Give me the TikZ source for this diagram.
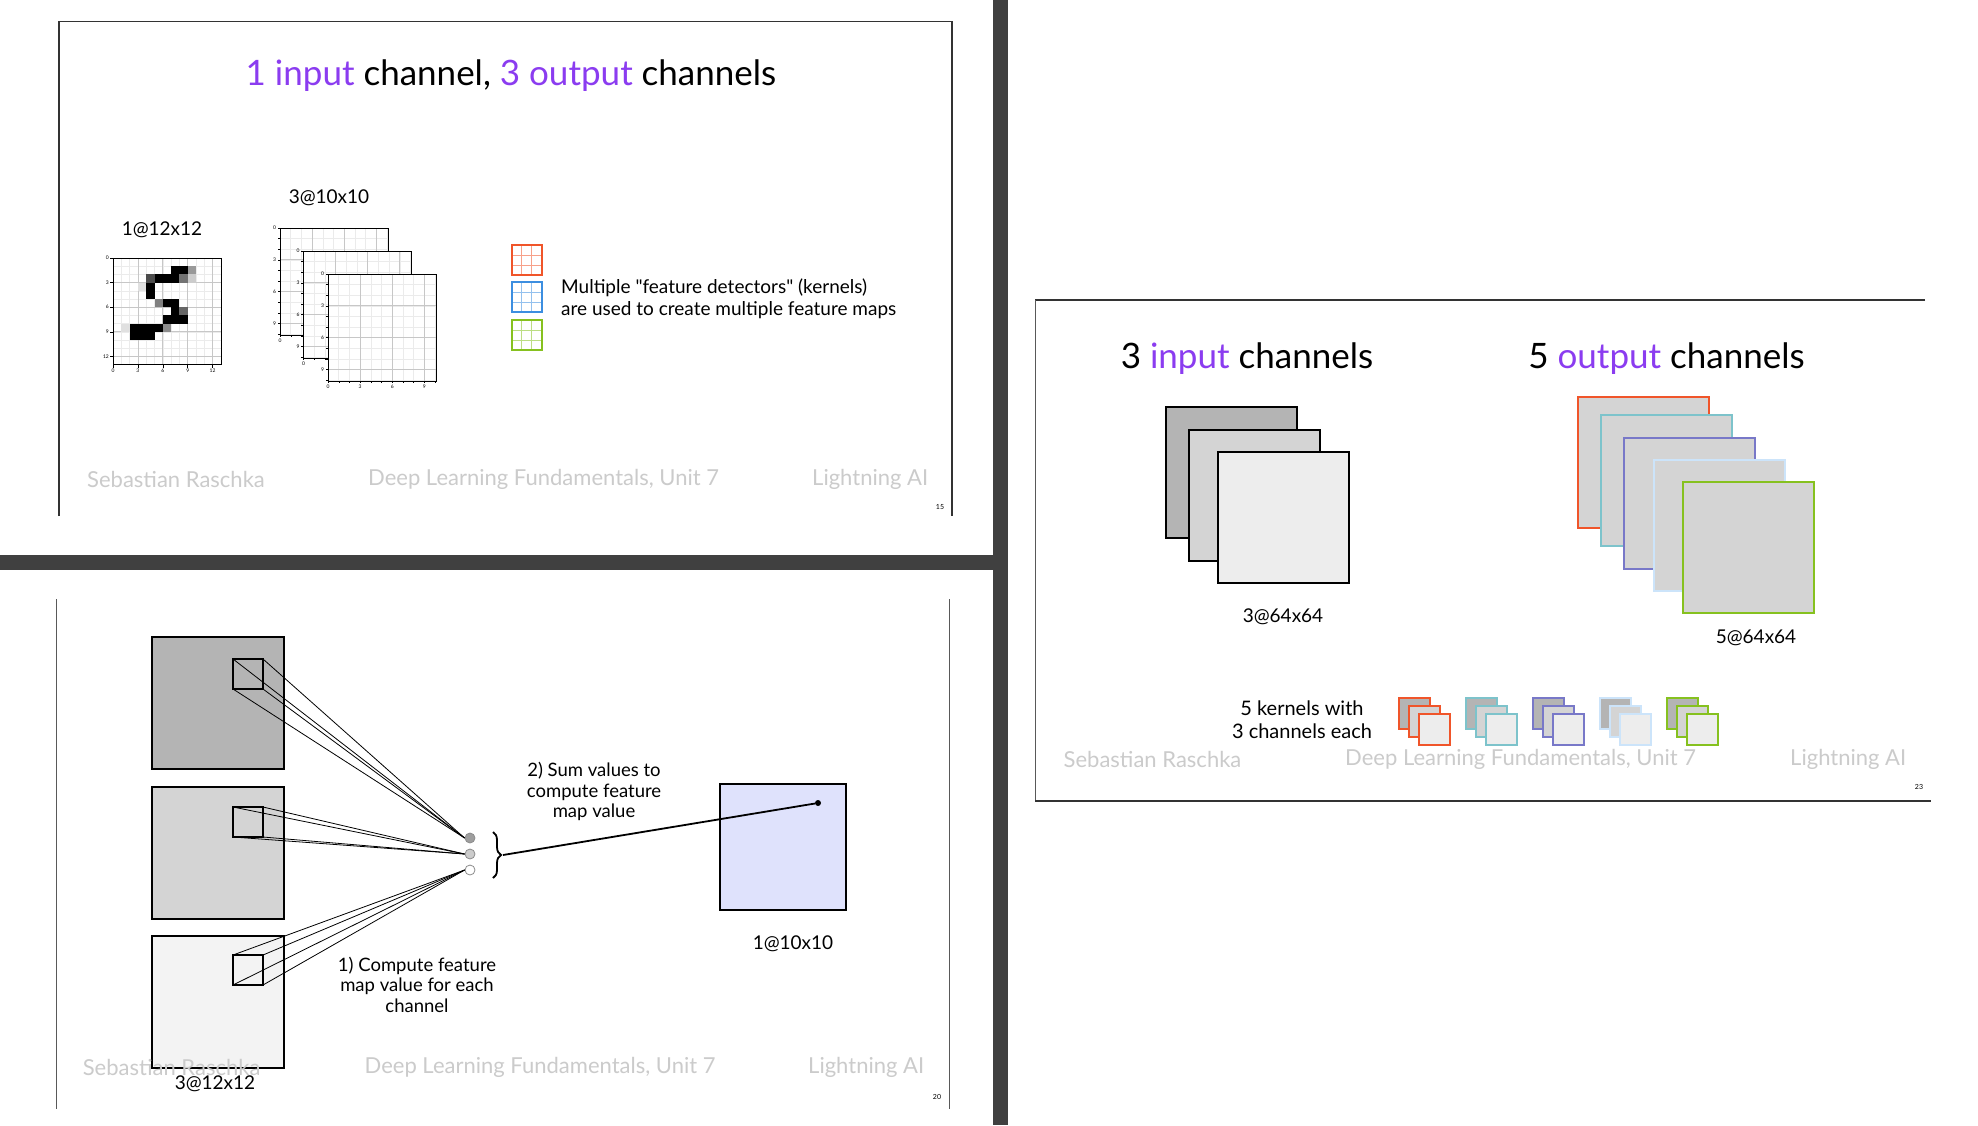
\documentclass[tikz,border=0pt]{standalone}
\usepackage{fontspec}
\setmainfont{Lato}[Ligatures=TeXOff]
\usepackage{tikz}
\usetikzlibrary{positioning,decorations.pathreplacing}

\definecolor{darkbar}{HTML}{404040}
\definecolor{footgrey}{HTML}{CBCBCB}
\definecolor{purp}{HTML}{8B3CF0}
\definecolor{gA}{HTML}{B4B4B4}
\definecolor{gB}{HTML}{D4D4D4}
\definecolor{gC}{HTML}{EDEDED}
\definecolor{gD}{HTML}{F3F3F3}
\definecolor{lav}{HTML}{DFE2FC}
\definecolor{kred}{HTML}{F0552A}
\definecolor{kblue}{HTML}{3C8EE0}
\definecolor{kgreen}{HTML}{86C11F}
\definecolor{kteal}{HTML}{7DC3CB}
\definecolor{kpurple}{HTML}{7878C8}
\definecolor{klblue}{HTML}{CCE4FA}

\tikzset{
  frameline/.style={draw=black!80, line width=1.6pt},
  sideline/.style={draw=black!65, line width=1pt},
  foot/.style={anchor=west, text=footgrey, inner sep=0pt, font=\fontsize{22}{26}\selectfont},
  pagenum/.style={inner sep=0pt, font=\fontsize{7}{8}\selectfont},
  heading/.style={anchor=base, inner sep=0pt, font=\fontsize{35}{40}\selectfont},
  dimlabel/.style={inner sep=0pt, font=\fontsize{19}{23}\selectfont},
  note/.style={align=center, inner sep=0pt, font=\fontsize{18.5}{20.5}\selectfont},
  chan/.style={draw=black, line width=1.4pt, minimum size=131pt, inner sep=0pt, outer sep=0pt},
  outchan/.style={line width=2pt, fill=gB, minimum size=131pt, inner sep=0pt, outer sep=0pt},
  kern/.style={line width=2pt, minimum size=30pt, inner sep=0pt, outer sep=0pt},
  win/.style={draw=black, line width=1.4pt, minimum size=30pt, inner sep=0pt, outer sep=0pt},
  ray/.style={line width=0.8pt},
  sumdot/.style={circle, draw=black!45, line width=0.8pt, minimum size=10pt, inner sep=0pt},
  ticklbl/.style={font=\fontsize{5}{6}\selectfont, inner sep=0.6pt},
  gridfine/.style={draw=black!8, line width=0.5pt},
  gridmajor/.style={draw=black!22, line width=0.7pt},
}

\begin{document}
\begin{tikzpicture}[x=1pt, y=-1pt]
\fill[white] (0,0) rectangle (1978,1125);
\useasboundingbox (0,0) rectangle (1978,1125);

% slide frames and separators
\draw[frameline] (59,516) -- (59,21.5) -- (952,21.5) -- (952,516);
\draw[sideline] (56,599) -- (56,1109);
\draw[sideline] (949,599) -- (949,1109);
\draw[frameline] (1925,300) -- (1035,300);
\draw[sideline] (1035,300) -- (1035,801);
\draw[frameline] (1035,801) -- (1931,801);
\fill[darkbar] (993,0) rectangle (1008,1125);
\fill[darkbar] (0,555) rectangle (993,570);

%%% slide 15: one input channel
\node[heading] (title1) at (511,85) {\textcolor{purp}{1 input} channel, \textcolor{purp}{3 output} channels};
\node[dimlabel] (mnistlbl) at (162,230) {1@12x12};
\node[dimlabel] (mapslbl) at (329,198) {3@10x10};

\begin{scope}[shift={(113,258)}, x=8.3pt, y=-8.2pt]
\foreach \k in {1,...,12} {
  \draw[gridfine] (\k,0) -- (\k,13);
  \draw[gridfine] (0,\k) -- (13,\k);
}
\foreach \k in {3,6,9,12} {
  \draw[gridmajor] (\k,0) -- (\k,13);
  \draw[gridmajor] (0,\k) -- (13,\k);
}
\foreach \px/\py/\pg in {7/1/100, 8/1/100, 9/1/40,
    4/2/70, 5/2/100, 6/2/100, 7/2/100, 8/2/55, 9/2/20,
    3/3/12, 4/3/100, 4/4/100,
    5/5/50, 6/5/100, 7/5/100, 7/6/100, 8/6/60,
    6/7/100, 7/7/100, 8/7/100,
    1/8/12, 2/8/100, 3/8/100, 4/8/100, 5/8/100, 6/8/45,
    2/9/100, 3/9/100, 4/9/100}
  \fill[black!\pg] (\px,\py) rectangle ++(1,1);
\draw[line width=0.7pt] (0,0) rectangle (13,13);
\foreach \k in {0,3,6,9,12} {
  \draw[line width=0.5pt] (\k,13) -- (\k,13.4);
  \node[ticklbl, below] (mx\k) at (\k,13.4) {\k};
  \draw[line width=0.5pt] (0,\k) -- (-0.4,\k);
  \node[ticklbl, left] (my\k) at (-0.4,\k) {\k};
}
\end{scope}

% three feature maps
\foreach \bx/\by in {280/228, 303.5/251, 328/274} {
\begin{scope}[shift={(\bx,\by)}, x=10.7pt, y=-10.6pt]
  \fill[white] (0,0) rectangle (10.1,10.1);
  \foreach \k in {1,...,10} {
    \draw[gridfine] (\k,0) -- (\k,10.1);
    \draw[gridfine] (0,\k) -- (10.1,\k);
  }
  \foreach \k in {3,6,9} {
    \draw[gridmajor] (\k,0) -- (\k,10.1);
    \draw[gridmajor] (0,\k) -- (10.1,\k);
  }
  \draw[line width=0.7pt] (0,0) rectangle (10.1,10.1);
  \foreach \k in {0,...,10} {
    \draw[line width=0.4pt] (\k,10.1) -- (\k,10.3);
    \draw[line width=0.4pt] (0,\k) -- (-0.2,\k);
  }
  \foreach \k in {0,3,6,9} {
    \node[ticklbl, below] at (\k,10.35) {\k};
    \node[ticklbl, left] at (-0.3,\k) {\k};
  }
\end{scope}
}

% kernels
\foreach \ky/\kc [count=\i] in {245/kred, 282/kblue, 320/kgreen} {
  \draw[\kc!55, line width=1pt] (521.5,\ky) -- (521.5,\ky+30) (531.5,\ky) -- (531.5,\ky+30)
        (511.5,\ky+10) -- (541.5,\ky+10) (511.5,\ky+20) -- (541.5,\ky+20);
  \node[kern, draw=\kc, anchor=north west] (kern\i) at (511.5,\ky) {};
}
\node[note, align=left, anchor=west, font=\fontsize{19}{21.5}\selectfont] (kernnote) at (561,299)
  {Multiple "feature detectors" (kernels)\\are used to create multiple feature maps};

\node[foot] (fa1) at (87,479) {Sebastian Raschka};
\node[foot] (fa2) at (368,479) {Deep Learning Fundamentals, Unit 7};
\node[foot] (fa3) at (812,479) {Lightning AI};
\node[pagenum] (na) at (940,507) {15};

%%% slide 23: three input channels, five output channels
\node[heading] (intitle) at (1247,368) {3 \textcolor{purp}{input} channels};
\node[heading] (outtitle) at (1666.5,368) {5 \textcolor{purp}{output} channels};

\node[chan, fill=gA, anchor=north west] (inA) at (1166,407) {};
\node[chan, fill=gB, anchor=north west] (inB) at (1189,430) {};
\node[chan, fill=gC, anchor=north west] (inC) at (1218,452) {};
\node[dimlabel] (inlbl) at (1283,617) {3@64x64};

\foreach \ox/\oy/\oc [count=\i] in {1578/397/kred, 1601/415/kteal, 1624/438/kpurple, 1654/460/klblue, 1683/482/kgreen}
  \node[outchan, draw=\oc, anchor=north west] (out\i) at (\ox,\oy) {};
\node[dimlabel] (outlbl) at (1756,638) {5@64x64};

\node[note, font=\fontsize{20}{23}\selectfont] (kerntext) at (1302,720) {5 kernels with\\3 channels each};
\foreach \kc [count=\i from 0] in {kred, kteal, kpurple, klblue, kgreen} {
  \node[kern, minimum size=31pt, draw=\kc, fill=gA, anchor=north west] (kst\i a) at (1399+67*\i,698) {};
  \node[kern, minimum size=31pt, draw=\kc, fill=gB, anchor=north west] (kst\i b) at (1409+67*\i,706) {};
  \node[kern, minimum size=31pt, draw=\kc, fill=gC, anchor=north west] (kst\i c) at (1419+67*\i,714) {};
}

\node[foot] (fb1) at (1063.5,759) {Sebastian Raschka};
\node[foot] (fb2) at (1345,759) {Deep Learning Fundamentals, Unit 7};
\node[foot] (fb3) at (1790,759) {Lightning AI};
\node[pagenum] (nb) at (1919,787) {23};

%%% slide 20: summing over channels
\node[chan, fill=gA, minimum size=132pt, anchor=north west] (chA) at (152,637) {};
\node[chan, fill=gB, minimum size=132pt, anchor=north west] (chB) at (152,787) {};
\node[chan, fill=gD, minimum size=132pt, anchor=north west] (chC) at (152,936) {};
\node[win, anchor=north west] (winA) at (233,659) {};
\node[win, anchor=north west] (winB) at (233,807) {};
\node[win, anchor=north west] (winC) at (233,955) {};

\node[sumdot, fill=black!38] (dotA) at (470,838) {};
\node[sumdot, fill=black!20] (dotB) at (470,854) {};
\node[sumdot, fill=white] (dotC) at (470,870) {};
\foreach \w/\d in {winA/dotA, winB/dotB, winC/dotC}
  \foreach \corner in {north west, north east, south west, south east}
    \draw[ray] (\w.\corner) -- (\d.west);

\coordinate (bracetop) at (493,832);
\coordinate (bracebot) at (493,878);
\draw[decorate, decoration={brace, amplitude=8pt}, line width=1.8pt] (bracetop) -- (bracebot);
\coordinate (bracetip) at (503,855);

\node[chan, fill=lav, minimum size=126pt, anchor=north west] (outmap) at (720,784) {};
\node[circle, fill=black, inner sep=0pt, minimum size=6pt] (outdot) at (818,803) {};
\draw[line width=1.8pt] (bracetip) -- (outdot);

\node[note] (step1) at (417,984.5) {1) Compute feature\\map value for each\\channel};
\node[note] (step2) at (594,791.5) {2) Sum values to\\compute feature\\map value};
\node[dimlabel] (chlbl) at (215,1084) {3@12x12};
\node[dimlabel] (maplbl) at (793,944) {1@10x10};

\node[foot] (fc1) at (82.6,1067) {Sebastian Raschka};
\node[foot] (fc2) at (364.5,1067) {Deep Learning Fundamentals, Unit 7};
\node[foot] (fc3) at (808,1067) {Lightning AI};
\node[pagenum] (nc) at (937,1097) {20};
\end{tikzpicture}
\end{document}
